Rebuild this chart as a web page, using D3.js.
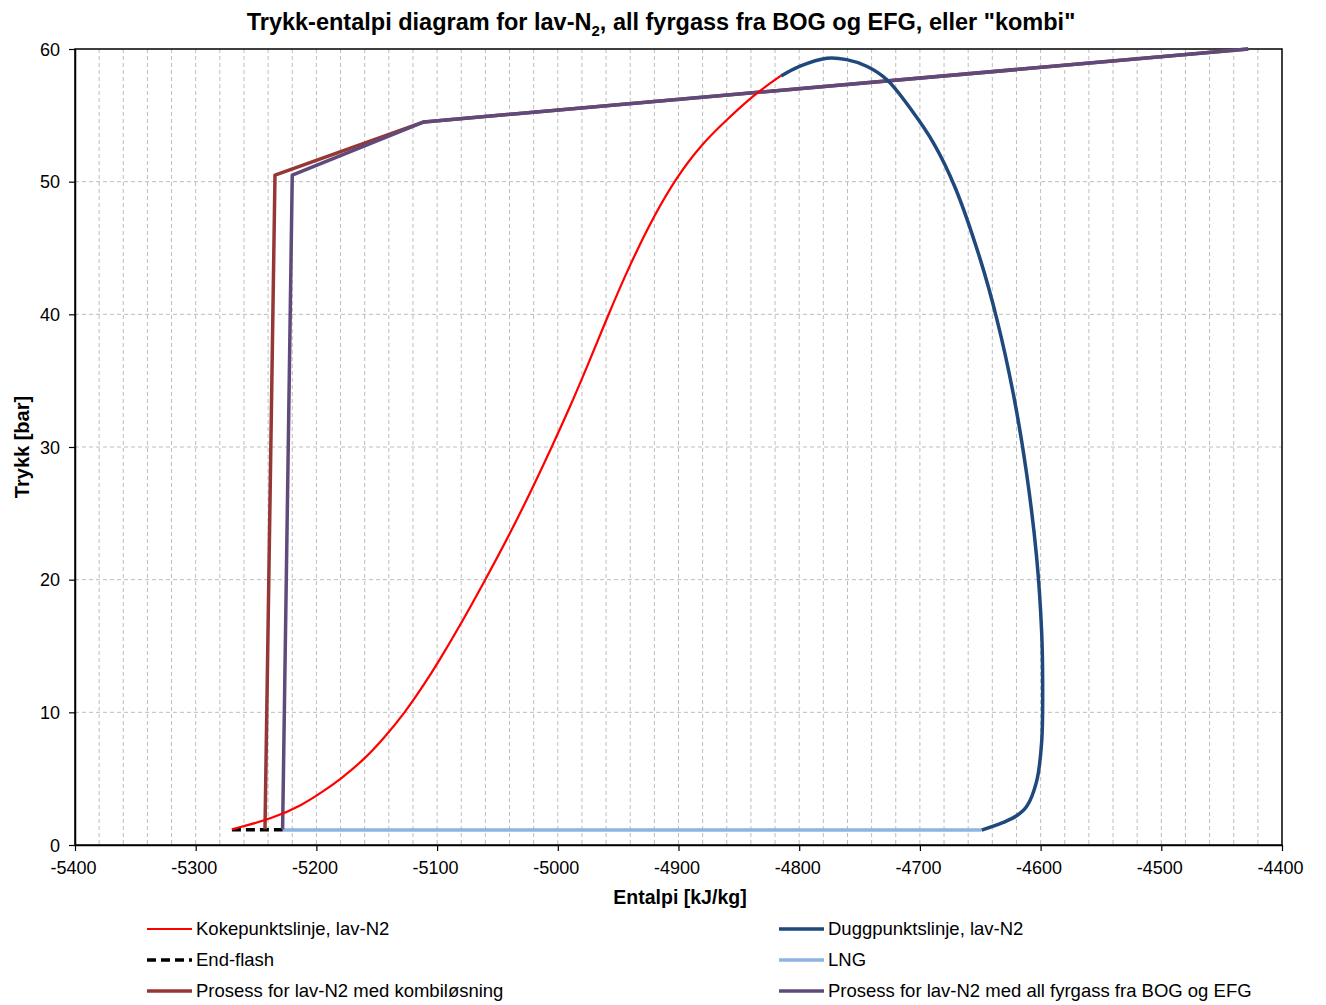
<!DOCTYPE html>
<html><head><meta charset="utf-8">
<script src="https://cdn.jsdelivr.net/npm/d3@7"></script>
<style>body{margin:0;background:#fff}svg{display:block;font-family:"Liberation Sans",Arial,sans-serif}</style>
</head><body><svg id="c" width="1326" height="1005"></svg>
<script>
// Kokepunktslinje (bubble line): [enthalpy, pressure]
const bubbleH = [-5270,-5236,-5212,-5195,-5179.5,-5161,-5144.5,-5126.5,-5111.5,-5099.5,-5080,-5060,-5040,-5021.5,-5004,-4990,-4975.5,-4958,-4941,-4920,-4901,-4882,-4862,-4837,-4815];
const bubbleP = [1.18,2,3,4,5,6.4,8,10,12,13.7,16.7,20,23.4,26.8,30.2,33,36.1,40,43.6,47.5,50.4,52.7,54.5,56.6,58];
// Duggpunktslinje (dew line)
const dewH = [-4815,-4799.3,-4777.2,-4760.7,-4744.1,-4727.5,-4707,-4688,-4671,-4650.2,-4636.4,-4622.6,-4611.6,-4603.3,-4599.1,-4598.3,-4599.1,-4603.3,-4611.6,-4619.9,-4630.9,-4648.8];
const dewP = [57.96,58.7,59.3,59.2,58.7,57.7,55.4,52.8,49.6,44.2,39.7,34,28,21.7,16,12.3,7.8,4.8,2.9,2.2,1.7,1.12];
// End-flash
const flashH = [-5270,-5228];
const flashP = [1.15,1.15];
// LNG
const lngH = [-5228,-4649];
const lngP = [1.13,1.13];
// Prosess kombi
const kombiH = [-5242.6,-5234.3,-5110.9,-4428];
const kombiP = [1.18,50.5,54.5,60];
// Prosess all fyrgass fra BOG og EFG
const bogH = [-5228,-5220,-5110.9,-4428];
const bogP = [1.18,50.5,54.5,60];
// ticks
const xTicks = [-5400,-5300,-5200,-5100,-5000,-4900,-4800,-4700,-4600,-4500,-4400];
const yTicks = [0,10,20,30,40,50,60];
const legendNames = ["Kokepunktslinje, lav-N2","End-flash","Prosess for lav-N2 med kombiløsning","Duggpunktslinje, lav-N2","LNG","Prosess for lav-N2 med all fyrgass fra BOG og EFG"];

const svg = d3.select("#c");
const L=75,R=1282,T=49,B=845;
const x = d3.scaleLinear().domain([-5400,-4400]).range([L,R]);
const y = d3.scaleLinear().domain([0,60]).range([B,T]);

// grid
const vg = d3.range(-5380,-4400,20);
svg.append("g").selectAll("line").data(vg).join("line")
  .attr("x1",d=>x(d)).attr("x2",d=>x(d)).attr("y1",T).attr("y2",B)
  .attr("stroke","#bdbdbd").attr("stroke-width",1).attr("stroke-dasharray","4,3");
svg.append("g").selectAll("line").data(yTicks.slice(1,6)).join("line")
  .attr("x1",L).attr("x2",R).attr("y1",d=>y(d)).attr("y2",d=>y(d))
  .attr("stroke","#bdbdbd").attr("stroke-width",1).attr("stroke-dasharray","4,3");

// frame
svg.append("rect").attr("x",L).attr("y",T).attr("width",R-L).attr("height",B-T)
  .attr("fill","none").attr("stroke","#000").attr("stroke-width",1.5);

// axes
const xa = svg.append("g").attr("transform",`translate(0,${B})`)
  .call(d3.axisBottom(x).tickValues(xTicks).tickSize(6).tickSizeOuter(0).tickFormat(d=>String(d)));
const ya = svg.append("g").attr("transform",`translate(${L},0)`)
  .call(d3.axisLeft(y).tickValues(yTicks).tickSize(6).tickSizeOuter(0).tickFormat(d=>String(d)));
[xa,ya].forEach(a=>{a.select(".domain").attr("stroke","#000").attr("stroke-width",1.5);
  a.selectAll(".tick line").attr("stroke","#000").attr("stroke-width",1.2);
  a.selectAll("text").attr("font-family","Liberation Sans, Arial, sans-serif").attr("font-size",18).attr("fill","#000");});
xa.selectAll("text").attr("y",23).attr("dy","0.35em").attr("dx",-2);
ya.selectAll("text").attr("x",-15).attr("dy","0.35em");

const line = d3.line().x(d=>x(d[0])).y(d=>y(d[1]));
const zip=(a,b)=>a.map((v,i)=>[v,b[i]]);
const curveCR = d3.line().x(d=>x(d[0])).y(d=>y(d[1])).curve(d3.curveCatmullRom.alpha(0.5));
const curveB = d3.line().x(d=>x(d[0])).y(d=>y(d[1])).curve(d3.curveBasis);

svg.append("path").datum(zip(lngH,lngP)).attr("d",line).attr("fill","none").attr("stroke","#8db4e2").attr("stroke-width",3.5);
svg.append("path").datum(zip(flashH,flashP)).attr("d",line).attr("fill","none").attr("stroke","#000").attr("stroke-width",3.5).attr("stroke-dasharray","9,5");
svg.append("path").datum(zip(kombiH,kombiP)).attr("d",line).attr("fill","none").attr("stroke","#953735").attr("stroke-width",3.5).attr("stroke-linejoin","round");
svg.append("path").datum(zip(bogH,bogP)).attr("d",line).attr("fill","none").attr("stroke","#604a7b").attr("stroke-width",3.5).attr("stroke-linejoin","round");
svg.append("path").datum(zip(dewH,dewP)).attr("d",curveCR).attr("fill","none").attr("stroke","#1f497d").attr("stroke-width",3.5);
svg.append("path").datum(zip(bubbleH,bubbleP)).attr("d",curveB).attr("fill","none").attr("stroke","#ff0000").attr("stroke-width",2.2);

// title
const t = svg.append("text").attr("x",661).attr("y",30).attr("text-anchor","middle")
  .attr("font-size",23.5).attr("font-weight","bold").attr("fill","#000");
t.append("tspan").text("Trykk-entalpi diagram for lav-N");
t.append("tspan").text("2").attr("font-size",15).attr("dy",6);
t.append("tspan").text(", all fyrgass fra BOG og EFG, eller \"kombi\"").attr("dy",-6);

svg.append("text").attr("x",680).attr("y",904).attr("text-anchor","middle").attr("font-size",19.5).attr("font-weight","bold").text("Entalpi [kJ/kg]");
svg.append("text").attr("transform","translate(29,447) rotate(-90)").attr("text-anchor","middle").attr("font-size",20).attr("font-weight","bold").text("Trykk [bar]");

// legend
const legStyles = [
  {c:"#ff0000",w:2.2,d:null},{c:"#000",w:3.5,d:"9,5"},{c:"#953735",w:3.5,d:null},
  {c:"#1f497d",w:3.5,d:null},{c:"#8db4e2",w:3.5,d:null},{c:"#604a7b",w:3.5,d:null}];
legendNames.forEach((n,i)=>{
  const col = Math.floor(i/3), row=i%3;
  const lx = col===0?147:779, ly = 929+row*31;
  const s = legStyles[i];
  svg.append("line").attr("x1",lx).attr("x2",lx+45).attr("y1",ly).attr("y2",ly)
    .attr("stroke",s.c).attr("stroke-width",s.w).attr("stroke-dasharray",s.d);
  svg.append("text").attr("x",lx+49).attr("y",ly).attr("dy","0.35em").attr("font-size",18.5).text(n);
});
</script></body></html>
